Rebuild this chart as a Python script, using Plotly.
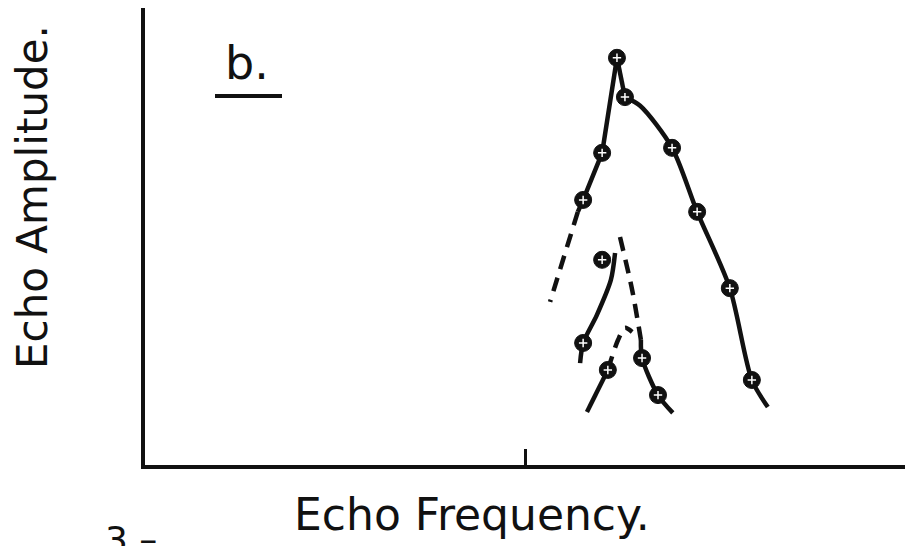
import plotly.graph_objects as go

# Echo amplitude vs. echo frequency, panel b (arbitrary units)
x_ticks = [1, 2]

# measured points
main_x = [1.242, 1.263, 1.203, 1.153, 1.387, 1.453, 1.539, 1.597]
main_y = [8.91, 8.05, 6.83, 5.80, 6.94, 5.54, 3.87, 1.86]
mid_left_x = [1.203, 1.153]
mid_left_y = [4.49, 2.67]
mid_right_x = [1.308, 1.350]
mid_right_y = [2.34, 1.53]
low_x = [1.218]
low_y = [2.08]

# hand-drawn curves through the points
rise_x = [1.242, 1.203, 1.153, 1.139]
rise_y = [8.91, 6.83, 5.80, 5.54]
rise_ext_x = [1.139, 1.066]
rise_ext_y = [5.54, 3.57]
peak_x = [1.242, 1.263]
peak_y = [8.91, 8.05]
fall_x = [1.263, 1.303, 1.387, 1.453, 1.539, 1.597, 1.639]
fall_y = [8.05, 7.86, 6.94, 5.54, 3.87, 1.86, 1.27]
mid_a_x = [1.237, 1.226, 1.189, 1.153, 1.145]
mid_a_y = [4.64, 4.05, 3.28, 2.67, 2.23]
mid_b_dash_x = [1.250, 1.282, 1.305]
mid_b_dash_y = [4.99, 3.83, 2.74]
mid_b_x = [1.305, 1.308, 1.350, 1.389]
mid_b_y = [2.74, 2.34, 1.53, 1.14]
low_a_x = [1.163, 1.218]
low_a_y = [1.16, 2.08]
low_dash_x = [1.218, 1.245, 1.263, 1.282]
low_dash_y = [2.08, 2.74, 3.00, 2.91]

INK = "#111111"
fig = go.Figure()


def curve(xs, ys, dash="solid", smooth=True):
    fig.add_trace(go.Scatter(
        x=xs, y=ys, mode="lines",
        line=dict(color=INK, width=4.5, dash="14px,9px" if dash == "dash" else "solid",
                  shape="spline" if smooth else "linear", smoothing=0.8),
        hoverinfo="skip", showlegend=False))


curve(rise_x, rise_y, smooth=False)
curve(rise_ext_x, rise_ext_y, dash="dash", smooth=False)
curve(peak_x, peak_y, smooth=False)
curve(fall_x, fall_y)
curve(mid_a_x, mid_a_y)
curve(mid_b_dash_x, mid_b_dash_y, dash="dash")
curve(mid_b_x, mid_b_y)
curve(low_a_x, low_a_y, smooth=False)
curve(low_dash_x, low_dash_y, dash="dash")

for xs, ys in [(main_x, main_y), (mid_left_x, mid_left_y),
               (mid_right_x, mid_right_y), (low_x, low_y)]:
    fig.add_trace(go.Scatter(
        x=xs, y=ys, mode="markers",
        marker=dict(size=17, color=INK, line=dict(color=INK, width=1)),
        hoverinfo="skip", showlegend=False))
    fig.add_trace(go.Scatter(
        x=xs, y=ys, mode="markers",
        marker=dict(size=6, symbol="cross-thin", color="white",
                    line=dict(color="white", width=1.5)),
        hoverinfo="skip", showlegend=False))

FONT = "DejaVu Sans"

fig.update_layout(
    width=909, height=546,
    margin=dict(l=145, r=4, t=8, b=81),
    paper_bgcolor="white", plot_bgcolor="white",
    xaxis=dict(range=[0, 2], showgrid=False, zeroline=False,
               showline=True, linecolor=INK, linewidth=4,
               ticks="inside", tickvals=x_ticks, ticklen=16, tickwidth=3,
               tickcolor=INK, showticklabels=False),
    yaxis=dict(range=[0, 10], showgrid=False, zeroline=False,
               showline=True, linecolor=INK, linewidth=4,
               ticks="", showticklabels=False),
)


def px_x(px):
    return (px - 145) / 760


def px_y(py):
    return (465 - py) / 457


def label(text, cx, cy, size, angle=0):
    fig.add_annotation(text=text, xref="paper", yref="paper",
                       x=px_x(cx), y=px_y(cy), xanchor="center", yanchor="middle",
                       textangle=angle, showarrow=False,
                       font=dict(family=FONT, size=size, color=INK))


label("Echo Amplitude.", 32, 197, 42, angle=-90)
label("Echo Frequency.", 472, 514, 44)
label("b.", 247, 63, 46)
fig.add_shape(type="line", xref="paper", yref="paper",
              x0=px_x(215), x1=px_x(282), y0=px_y(96), y1=px_y(96),
              line=dict(color=INK, width=4))
label("3 \u2013", 131, 539, 36)

fig.write_html("out.html")
